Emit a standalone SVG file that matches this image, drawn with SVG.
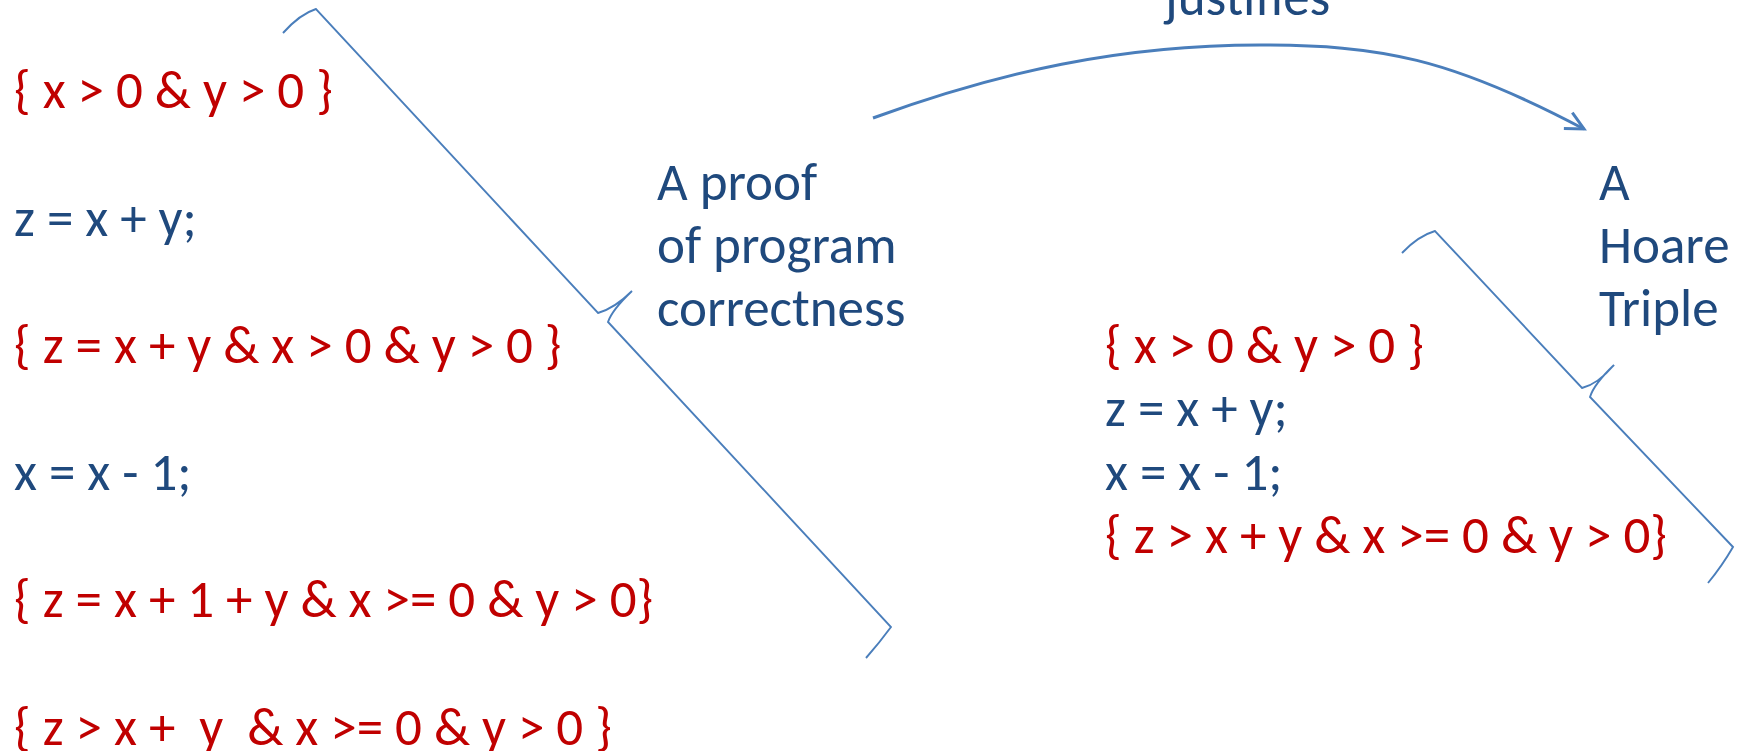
<svg xmlns="http://www.w3.org/2000/svg" width="1742" height="751" viewBox="0 0 1742 751">
<style>
text{font-family:Carlito,Lato,"Liberation Sans",sans-serif;font-size:53px}
.r{fill:#C00000}
.b{fill:#1F497D}
.brace{fill:none;stroke:#4A7EBB;stroke-width:1.9}
.arrow{fill:none;stroke:#4A7EBB;stroke-width:3}
</style>
<defs>
<marker id="open" markerWidth="24" markerHeight="24" refX="20" refY="11" orient="auto" markerUnits="userSpaceOnUse">
<path d="M2,2 L20,11 L2,20" fill="none" stroke="#4A7EBB" stroke-width="3"/>
</marker>
</defs>
<g id="proof-code">
<text class="r" x="14" y="108">{ x &gt; 0 &amp; y &gt; 0 }</text>
<text class="b" x="14" y="236">z = x + y;</text>
<text class="r" x="14" y="363">{ z = x + y &amp; x &gt; 0 &amp; y &gt; 0 }</text>
<text class="b" x="14" y="490">x = x - 1;</text>
<text class="r" x="14" y="617">{ z = x + 1 + y &amp; x &gt;= 0 &amp; y &gt; 0}</text>
<text class="r" x="14" y="745" xml:space="preserve">{ z &gt; x +  y  &amp; x &gt;= 0 &amp; y &gt; 0 }</text>
</g>
<g id="proof-label">
<text class="b" x="657" y="200">A proof</text>
<text class="b" x="657" y="263">of program</text>
<text class="b" x="657" y="326">correctness</text>
</g>
<g id="triple-code">
<text class="r" x="1105" y="363">{ x &gt; 0 &amp; y &gt; 0 }</text>
<text class="b" x="1105" y="426">z = x + y;</text>
<text class="b" x="1105" y="490">x = x - 1;</text>
<text class="r" x="1105" y="553">{ z &gt; x + y &amp; x &gt;= 0 &amp; y &gt; 0}</text>
</g>
<g id="triple-label">
<text class="b" x="1599" y="200">A</text>
<text class="b" x="1599" y="263">Hoare</text>
<text class="b" x="1599" y="326">Triple</text>
</g>
<g id="connectors">
<path class="brace" d="M283,33 Q300,14 316,9 L598,313 Q615,308 632,291 Q612,310 608,322 L891,627 Q880,642 866,658"/>
<path class="brace" d="M1402,253 Q1418,236 1435,231 L1582,388 Q1598,384 1614,365 Q1594,384 1590,397 L1733,547 Q1722,566 1708,583"/>
<path class="arrow" d="M873,118 C1000,72 1120,45 1260,45 C1380,45 1450,58 1584,129" marker-end="url(#open)"/>
<text class="b" x="1165" y="15">justifies</text>
</g>
</svg>
